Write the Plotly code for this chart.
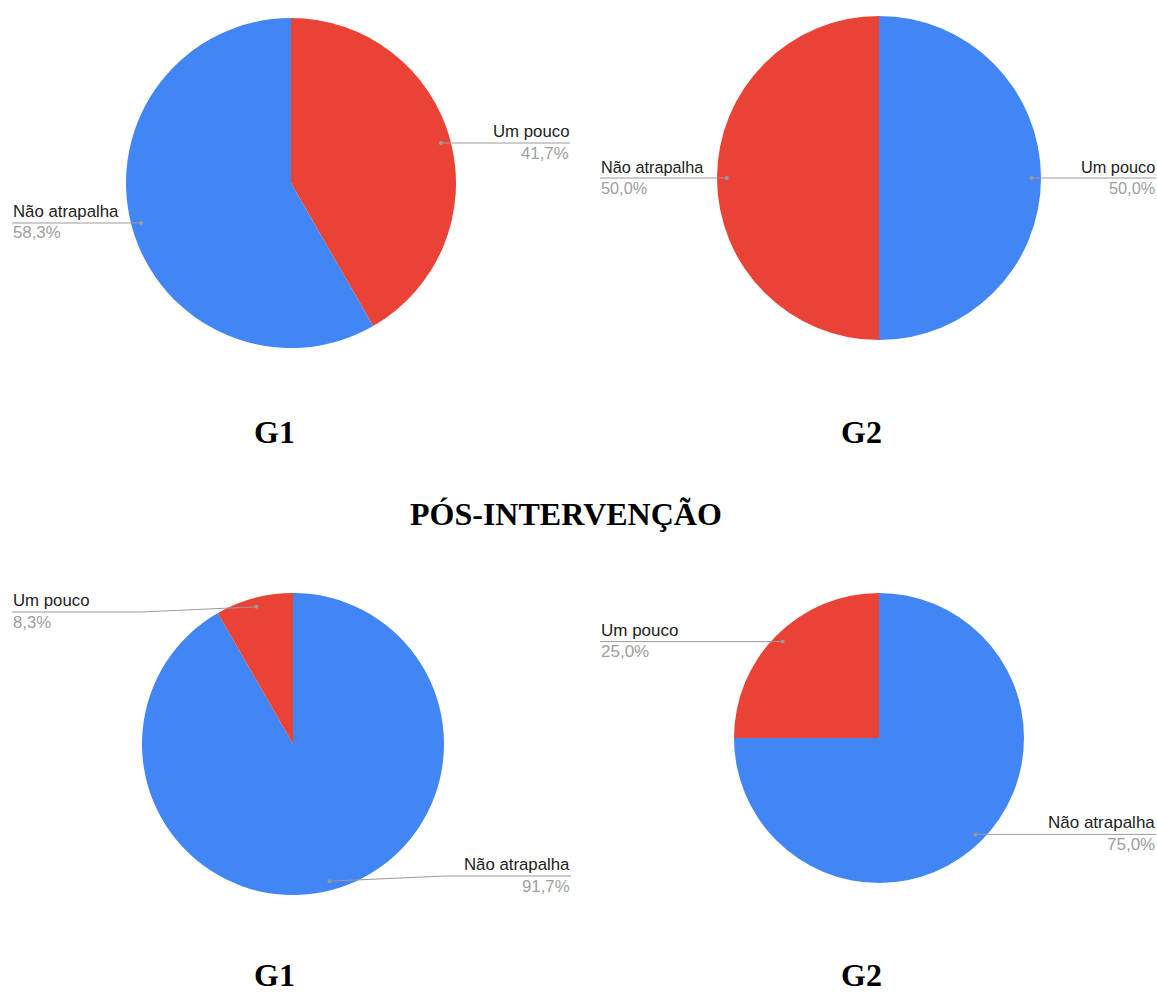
import math
import plotly.graph_objects as go

# ---------------- data ----------------
group_titles = ["G1", "G2", "G1", "G2"]
section_title = "PÓS-INTERVENÇÃO"

pre_g1_labels = ["Um pouco", "Não atrapalha"]
pre_g1_values = [41.7, 58.3]

pre_g2_labels = ["Um pouco", "Não atrapalha"]
pre_g2_values = [50.0, 50.0]

pos_g1_labels = ["Não atrapalha", "Um pouco"]
pos_g1_values = [91.7, 8.3]

pos_g2_labels = ["Não atrapalha", "Um pouco"]
pos_g2_values = [75.0, 25.0]

# ---------------- style / layout ----------------
W, H = 1157, 992
BLUE, RED = "#4285F4", "#EA4335"
NAME_COLOR, PCT_COLOR, LINE_COLOR = "#222222", "#9E9E9E", "#9A9A9A"

charts = [
    dict(labels=pre_g1_labels, values=pre_g1_values, colors=[RED, BLUE],
         cx=291, cy=183, r=165, xl=12, xr=570, fs=16.8),
    dict(labels=pre_g2_labels, values=pre_g2_values, colors=[BLUE, RED],
         cx=879, cy=178, r=162, xl=600, xr=1156, fs=16.3),
    dict(labels=pos_g1_labels, values=pos_g1_values, colors=[BLUE, RED],
         cx=293, cy=744, r=151, xl=12, xr=571, fs=16.8),
    dict(labels=pos_g2_labels, values=pos_g2_values, colors=[BLUE, RED],
         cx=879, cy=738, r=145, xl=600, xr=1156, fs=17),
]
title_pos = [(274, 431.5), (861, 431.5), (274, 975), (861, 975)]
section_pos = (566, 514)

fig = go.Figure()
shapes, annotations = [], []

for ch in charts:
    cx, cy, r = ch["cx"], ch["cy"], ch["r"]
    fs = ch["fs"]
    fig.add_trace(go.Pie(
        labels=ch["labels"], values=ch["values"],
        marker=dict(colors=ch["colors"], line=dict(width=0)),
        sort=False, direction="clockwise", rotation=0,
        textinfo="none", showlegend=False, hole=0,
        domain=dict(x=[(cx - r) / W, (cx + r) / W],
                    y=[1 - (cy + r) / H, 1 - (cy - r) / H]),
    ))
    total = sum(ch["values"])
    cum = 0.0
    for lab, v in zip(ch["labels"], ch["values"]):
        mid = (cum + v / 2) / total * 2 * math.pi
        cum += v
        rd = 0.94 * r
        dx, dy = cx + rd * math.sin(mid), cy - rd * math.cos(mid)
        ly = min(max(dy, cy - r + 19), cy + r - 19)
        right = math.sin(mid) >= 0
        edge = ch["xr"] if right else ch["xl"]
        if abs(ly - dy) < 0.5:
            pts = [(dx, dy), (edge, dy)]
        else:
            ex = dx + (116 if right else -116)
            pts = [(dx, dy), (ex, ly), (edge, ly)]
        path = "M " + " L ".join(f"{x:.2f},{y:.2f}" for x, y in pts)
        shapes.append(dict(type="path", path=path, xref="x", yref="y", layer="above",
                           line=dict(color=LINE_COLOR, width=1)))
        shapes.append(dict(type="circle", xref="x", yref="y", layer="above",
                           x0=dx - 2, x1=dx + 2, y0=dy - 2, y1=dy + 2,
                           fillcolor=LINE_COLOR, line=dict(width=0)))
        pct = f"{v:.1f}".replace(".", ",") + "%"
        xa = "right" if right else "left"
        ax = (edge + (1 if right else -1)) / W
        annotations.append(dict(x=ax, y=ly, xref="paper", yref="y", text=lab,
                                showarrow=False, xanchor=xa, yanchor="bottom",
                                font=dict(family="Liberation Sans, Arial", size=fs, color=NAME_COLOR)))
        annotations.append(dict(x=ax, y=ly - 1.5, xref="paper", yref="y", text=pct,
                                showarrow=False, xanchor=xa, yanchor="top",
                                font=dict(family="Liberation Sans, Arial", size=fs, color=PCT_COLOR)))

for t, (tx, ty) in zip(group_titles, title_pos):
    annotations.append(dict(x=tx, y=ty, xref="x", yref="y", text=f"<b>{t}</b>",
                            showarrow=False, xanchor="center", yanchor="middle",
                            font=dict(family="Liberation Serif, Times New Roman", size=32, color="#000000")))
annotations.append(dict(x=section_pos[0], y=section_pos[1], xref="x", yref="y",
                        text=f"<b>{section_title}</b>", showarrow=False,
                        xanchor="center", yanchor="middle",
                        font=dict(family="Liberation Serif, Times New Roman", size=32, color="#000000")))

fig.update_layout(
    width=W, height=H, margin=dict(l=0, r=0, t=0, b=0),
    paper_bgcolor="white", plot_bgcolor="rgba(0,0,0,0)",
    xaxis=dict(range=[0, W], domain=[0, 1], visible=False, fixedrange=True),
    yaxis=dict(range=[H, 0], domain=[0, 1], visible=False, fixedrange=True),
    annotations=annotations, shapes=shapes,
)
fig.write_html("out.html")
